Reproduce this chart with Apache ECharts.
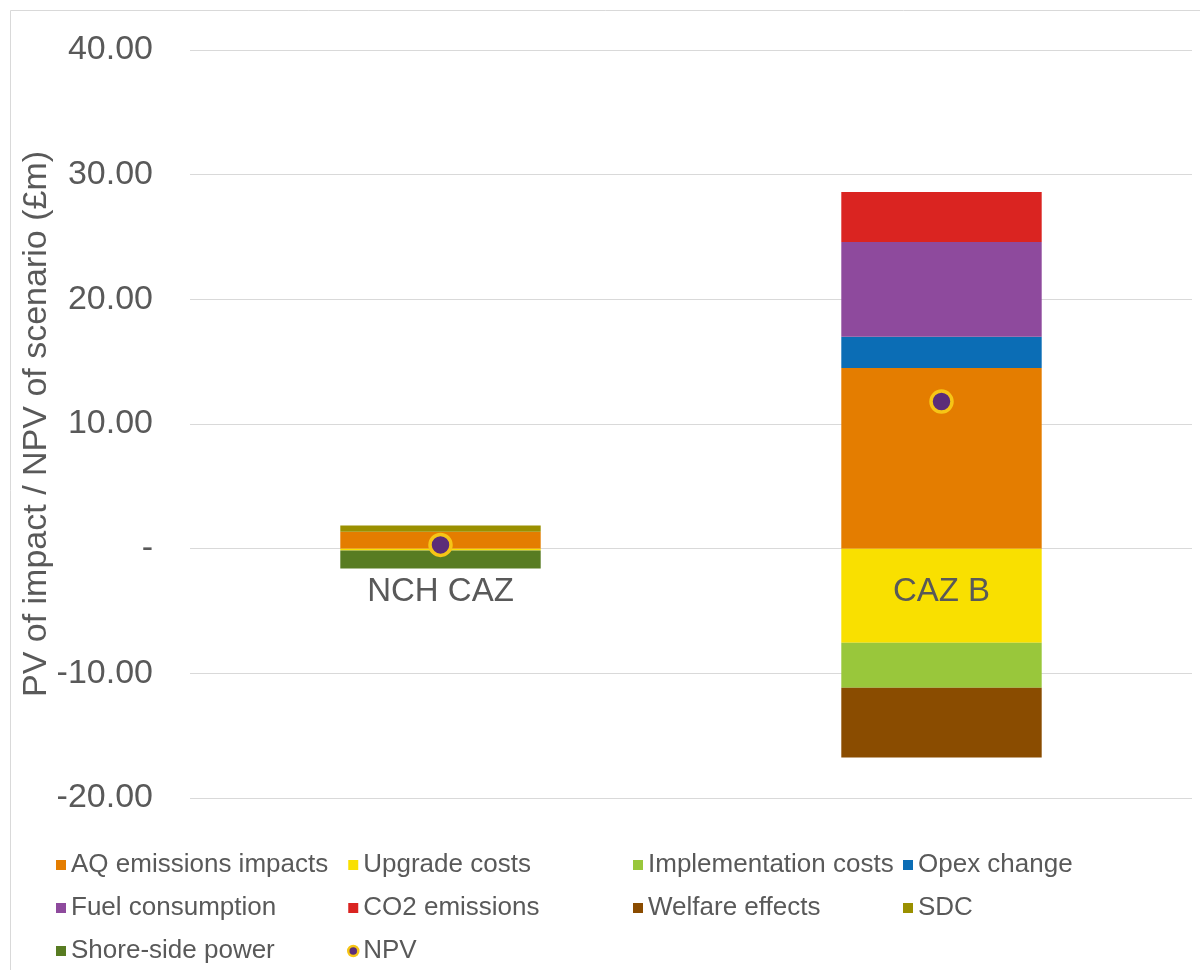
<!DOCTYPE html>
<html>
<head>
<meta charset="utf-8">
<script src="https://cdn.jsdelivr.net/npm/echarts@6/dist/echarts.min.js"></script>
<style>
html,body{margin:0;padding:0;background:#fff;}
#chart{width:1200px;height:970px;}
</style>
</head>
<body>
<div id="chart"></div>
<script>
var categories = ['NCH CAZ', 'CAZ B'];
var aqEmissions = [1.35, 14.5];
var upgradeCosts = [-0.15, -7.55];
var implementationCosts = [0, -3.6];
var opexChange = [0, 2.5];
var fuelConsumption = [0, 7.6];
var co2Emissions = [0, 4.0];
var welfareEffects = [0, -5.6];
var sdc = [0.5, 0];
var shoreSidePower = [-1.45, 0];
var npv = [0.3, 11.8];
var yTickValues = [-20, -10, 0, 10, 20, 30, 40];
var yTickLabels = ['-20.00', '-10.00', '-', '10.00', '20.00', '30.00', '40.00'];
var categoryLabelAt = [0, 0];

var FONT = '"Liberation Sans", Arial, sans-serif';
var TXT = '#595959';

var barSeries = [
  {name: 'AQ emissions impacts', data: aqEmissions, color: '#E47D00'},
  {name: 'Upgrade costs', data: upgradeCosts, color: '#F9E000'},
  {name: 'Implementation costs', data: implementationCosts, color: '#99C73B'},
  {name: 'Opex change', data: opexChange, color: '#0B6DB5'},
  {name: 'Fuel consumption', data: fuelConsumption, color: '#8E4A9D'},
  {name: 'CO2 emissions', data: co2Emissions, color: '#DA2421'},
  {name: 'Welfare effects', data: welfareEffects, color: '#8A4C00'},
  {name: 'SDC', data: sdc, color: '#9A9000'},
  {name: 'Shore-side power', data: shoreSidePower, color: '#587C22'}
];

var series = barSeries.map(function (s) {
  return {
    name: s.name,
    type: 'bar',
    stack: 'total',
    barCategoryGap: '60%',
    data: s.data,
    itemStyle: {color: s.color},
    emphasis: {disabled: true}
  };
});
series.push({
  name: 'NPV',
  type: 'scatter',
  data: npv,
  symbol: 'circle',
  symbolSize: 21,
  z: 5,
  itemStyle: {color: '#5B2D78', borderColor: '#F6C516', borderWidth: 3.5, opacity: 1}
});
series.push({
  name: 'categoryLabels',
  type: 'scatter',
  data: categoryLabelAt,
  symbolSize: 0,
  silent: true,
  z: 10,
  itemStyle: {opacity: 1},
  label: {
    show: true,
    position: 'bottom',
    distance: 27,
    fontFamily: FONT,
    fontSize: 33,
    color: TXT,
    opacity: 1,
    formatter: function (p) { return categories[p.dataIndex]; }
  },
  emphasis: {disabled: true},
  tooltip: {show: false}
});

function legendCol(left, names) {
  return {
    orient: 'vertical',
    left: left,
    top: 852,
    height: 118,
    padding: 0,
    itemWidth: 10,
    itemHeight: 10,
    itemGap: 17,
    icon: 'rect',
    textStyle: {fontFamily: FONT, fontSize: 26, color: TXT},
    selectedMode: false,
    data: names.map(function (n) {
      if (n === 'NPV') return {name: n, icon: 'circle', itemStyle: {borderWidth: 2.5}};
      return {name: n};
    })
  };
}

var chart = echarts.init(document.getElementById('chart'));
chart.setOption({
  animation: false,
  backgroundColor: '#fff',
  graphic: [{
    type: 'rect',
    shape: {x: 10.5, y: 10.5, width: 1300, height: 1100},
    style: {fill: null, stroke: '#d9d9d9', lineWidth: 1},
    silent: true
  }],
  grid: {left: 190, right: 8, top: 50, bottom: 172, containLabel: false},
  legend: [
    legendCol(56, ['AQ emissions impacts', 'Fuel consumption', 'Shore-side power']),
    legendCol(347, ['Upgrade costs', 'CO2 emissions', 'NPV']),
    legendCol(633, ['Implementation costs', 'Welfare effects']),
    legendCol(903, ['Opex change', 'SDC'])
  ],
  xAxis: {
    type: 'category',
    data: categories,
    axisLine: {show: false},
    axisTick: {show: false},
    axisLabel: {show: false}
  },
  yAxis: {
    type: 'value',
    min: -20,
    max: 40,
    interval: 10,
    name: 'PV of impact / NPV of scenario (£m)',
    nameLocation: 'middle',
    nameRotate: 90,
    nameGap: 136,
    nameMoveOverlap: false,
    nameTextStyle: {fontFamily: FONT, fontSize: 34, color: TXT},
    axisLine: {show: false},
    axisTick: {show: false},
    splitLine: {lineStyle: {color: '#d9d9d9', width: 1}},
    axisLabel: {
      fontFamily: FONT, fontSize: 34, color: TXT, margin: 37,
      formatter: function (v) {
        var i = yTickValues.indexOf(v);
        return i >= 0 ? yTickLabels[i] : '';
      }
    }
  },
  series: series
});
</script>
</body>
</html>
